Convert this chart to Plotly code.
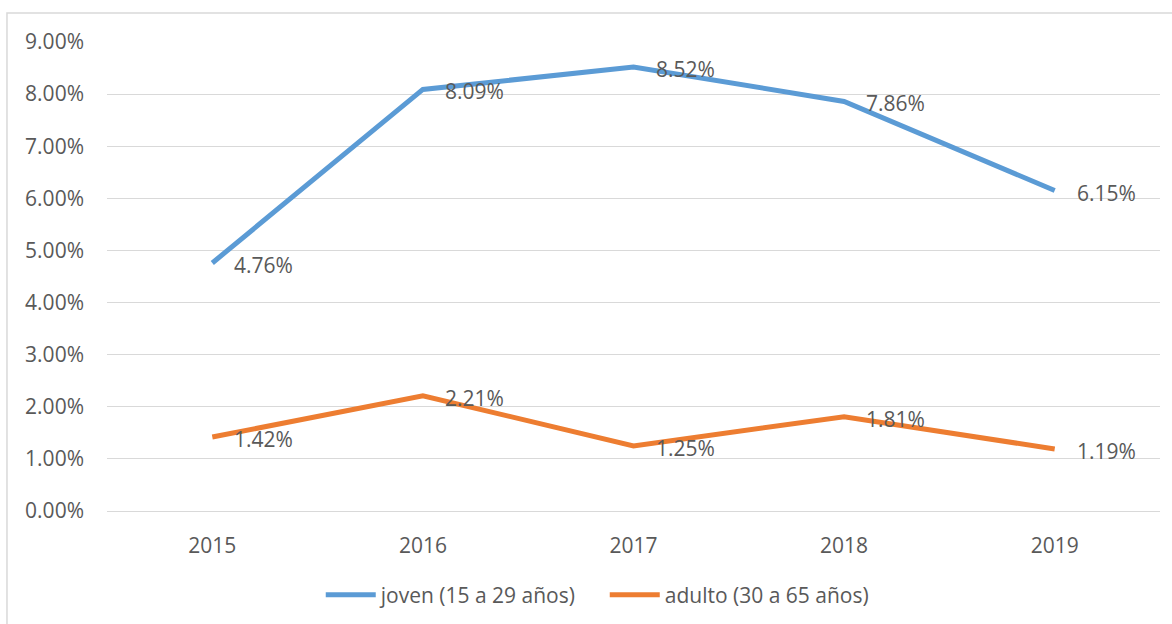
import plotly.graph_objects as go

# ── DATOS ─────────────────────────────────────────────────────────────────────
years = ['2015', '2016', '2017', '2018', '2019']
joven = [0.0476, 0.0809, 0.0852, 0.0786, 0.0615]
adulto = [0.0142, 0.0221, 0.0125, 0.0181, 0.0119]
y_ticks = [0, 0.01, 0.02, 0.03, 0.04, 0.05, 0.06, 0.07, 0.08, 0.09]

BLUE = '#5B9BD5'
ORANGE = '#ED7D31'
TEXT = '#595959'
GRID = '#D9D9D9'
FONT = 'Open Sans'
FS = 21

fig = go.Figure()
fig.add_trace(go.Scatter(x=years, y=joven, mode='lines', name='joven (15 a 29 años)',
                         line=dict(color=BLUE, width=5)))
fig.add_trace(go.Scatter(x=years, y=adulto, mode='lines', name='adulto (30 a 65 años)',
                         line=dict(color=ORANGE, width=5)))

# etiquetas de datos a la derecha del punto (estilo Excel)
for serie in (joven, adulto):
    for i, v in enumerate(serie):
        fig.add_annotation(x=i, y=v, xref='x', yref='y', text=f'{v * 100:.2f}%',
                           showarrow=False, xanchor='left', yanchor='middle',
                           xshift=20, yshift=-2,
                           font=dict(family=FONT, size=FS, color=TEXT))

# marco del área del gráfico
fig.add_shape(type='rect', xref='paper', yref='paper',
              x0=-0.095, x1=1.05, y0=-0.4, y1=1.0618,
              line=dict(color=GRID, width=1.5), layer='below')

fig.update_xaxes(showgrid=False, showline=False, zeroline=False, ticks='',
                 tickfont=dict(family=FONT, size=FS, color=TEXT),
                 ticklabelstandoff=20, range=[-0.5, 4.5])
fig.update_yaxes(range=[0, 0.09], tickvals=y_ticks, tickformat='.2%',
                 showgrid=True, gridcolor=GRID, gridwidth=1.2,
                 zeroline=True, zerolinecolor=GRID, zerolinewidth=1.2,
                 showline=False, ticks='', ticklabelstandoff=22,
                 tickfont=dict(family=FONT, size=FS, color=TEXT))

fig.update_layout(
    width=1172, height=624,
    margin=dict(l=107, r=12, t=42, b=113, autoexpand=False),
    plot_bgcolor='white', paper_bgcolor='white',
    showlegend=True,
    legend=dict(orientation='h', xref='container', yref='container',
                x=0.516, xanchor='center', y=0.0465, yanchor='middle',
                font=dict(family=FONT, size=FS, color=TEXT), itemwidth=50,
                entrywidth=219, tracegroupgap=0),
)

fig.write_html('out.html', config={'displayModeBar': False},
               post_script="document.body.style.margin='0';")
